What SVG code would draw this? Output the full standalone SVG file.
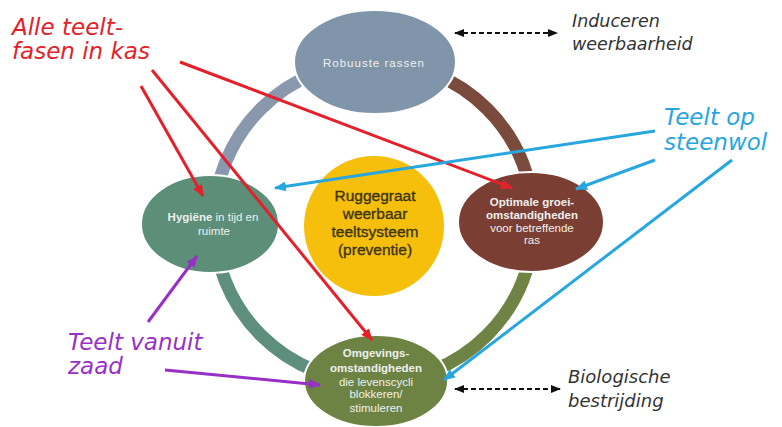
<svg xmlns="http://www.w3.org/2000/svg" width="782" height="427" viewBox="0 0 782 427">
<style>
.ring{fill:none;stroke-width:13}
.node{stroke:#ffffff;stroke-width:2}
.nt{font-family:"Liberation Sans",Arial,sans-serif;font-size:11.5px;fill:#eef0ee;text-anchor:middle}
.b{font-weight:bold}
.ct{font-family:"Liberation Sans",Arial,sans-serif;font-size:15.5px;fill:#3d3510;stroke:#3d3510;stroke-width:0.35;text-anchor:middle}
.ann{font-family:"DejaVu Sans",Verdana,sans-serif;font-style:italic}
.red{stroke:#e4202a;stroke-width:3;fill:none;marker-end:url(#mr)}
.blue{stroke:#27a6df;stroke-width:3;fill:none;marker-end:url(#mb)}
.purple{stroke:#982fc6;stroke-width:3;fill:none;marker-end:url(#mp)}
.dash{stroke:#111;stroke-width:2;stroke-dasharray:5 3;fill:none;marker-start:url(#mk);marker-end:url(#mk)}
</style>
<defs>
<marker id="mr" viewBox="0 0 12 10" refX="11" refY="5" markerWidth="12" markerHeight="10" markerUnits="userSpaceOnUse" orient="auto"><path d="M0,0 L12,5 L0,10 z" fill="#e4202a"/></marker>
<marker id="mb" viewBox="0 0 12 10" refX="11" refY="5" markerWidth="12" markerHeight="10" markerUnits="userSpaceOnUse" orient="auto"><path d="M0,0 L12,5 L0,10 z" fill="#27a6df"/></marker>
<marker id="mp" viewBox="0 0 12 10" refX="11" refY="5" markerWidth="12" markerHeight="10" markerUnits="userSpaceOnUse" orient="auto"><path d="M0,0 L12,5 L0,10 z" fill="#982fc6"/></marker>
<marker id="mk" viewBox="0 0 10 8" refX="9" refY="4" markerWidth="10" markerHeight="8" markerUnits="userSpaceOnUse" orient="auto-start-reverse"><path d="M0,0 L10,4 L0,8 z" fill="#111"/></marker>
</defs>
<rect width="782" height="427" fill="#ffffff"/>

<g id="ring">
<path class="ring" stroke="#8a98ae" d="M214 222 A160 160 0 0 1 374 62"/>
<path class="ring" stroke="#7a4a3c" d="M374 62 A160 160 0 0 1 534 222"/>
<path class="ring" stroke="#6f8444" d="M534 222 A160 160 0 0 1 374 382"/>
<path class="ring" stroke="#5e8f7d" d="M374 382 A160 160 0 0 1 214 222"/>
</g>

<g id="node-robuust">
<ellipse class="node" cx="375" cy="62" rx="81" ry="52" fill="#8094aa"/>
<text class="nt" x="374" y="67" letter-spacing="1">Robuuste  rassen</text>
</g>

<g id="node-hygiene">
<ellipse class="node" cx="210" cy="224" rx="69" ry="49" fill="#5c8e78"/>
<text class="nt" x="213" y="221"><tspan class="b">Hygiëne</tspan> in tijd en</text>
<text class="nt" x="214" y="235">ruimte</text>
</g>

<g id="node-optimaal">
<ellipse class="node" cx="531" cy="222" rx="73" ry="50" fill="#7b3e33"/>
<text class="nt b" x="532" y="206">Optimale groei-</text>
<text class="nt b" x="532" y="219">omstandigheden</text>
<text class="nt" x="532" y="232">voor  betreffende</text>
<text class="nt" x="532" y="244">ras</text>
</g>

<g id="node-omgeving">
<ellipse class="node" cx="376" cy="381" rx="72" ry="46" fill="#6d8344"/>
<text class="nt b" x="376" y="357">Omgevings-</text>
<text class="nt b" x="376" y="372">omstandigheden</text>
<text class="nt" x="376" y="386">die levenscycli</text>
<text class="nt" x="376" y="398">blokkeren/</text>
<text class="nt" x="376" y="412">stimuleren</text>
</g>

<g id="node-center">
<circle cx="374" cy="226" r="70" fill="#f5bf0c"/>
<text class="ct" x="375" y="201">Ruggegraat</text>
<text class="ct" x="375" y="219">weerbaar</text>
<text class="ct" x="375" y="237">teeltsysteem</text>
<text class="ct" x="375" y="255">(preventie)</text>
</g>

<g id="label-alle">
<text class="ann" font-size="23" fill="#e4202a" x="12" y="35">Alle teelt-</text>
<text class="ann" font-size="23" fill="#e4202a" x="12" y="59">fasen in kas</text>
</g>
<g id="label-induceren">
<text class="ann" font-size="17.5" fill="#333" x="572" y="27">Induceren</text>
<text class="ann" font-size="17.5" fill="#333" x="572" y="50">weerbaarheid</text>
</g>
<g id="label-steenwol">
<text class="ann" font-size="23" fill="#27a6df" x="664" y="125">Teelt op</text>
<text class="ann" font-size="23" fill="#27a6df" x="664" y="150">steenwol</text>
</g>
<g id="label-zaad">
<text class="ann" font-size="23" fill="#982fc6" x="68" y="350">Teelt vanuit</text>
<text class="ann" font-size="23" fill="#982fc6" x="68" y="374">zaad</text>
</g>
<g id="label-bio">
<text class="ann" font-size="18" fill="#333" x="568" y="383">Biologische</text>
<text class="ann" font-size="18" fill="#333" x="568" y="407">bestrijding</text>
</g>

<g id="connectors">
<line class="dash" x1="455" y1="33" x2="557" y2="33"/>
<line class="dash" x1="455" y1="389" x2="560" y2="389"/>
<line class="red" x1="180" y1="62" x2="512" y2="188"/>
<line class="red" x1="141" y1="86" x2="203" y2="196"/>
<line class="red" x1="152" y1="70" x2="372" y2="340"/>
<line class="blue" x1="655" y1="131" x2="275" y2="188"/>
<line class="blue" x1="655" y1="160" x2="576" y2="189"/>
<line class="blue" x1="732" y1="160" x2="444" y2="380"/>
<line class="purple" x1="148" y1="322" x2="197" y2="256"/>
<line class="purple" x1="165" y1="370" x2="320" y2="385"/>
</g>
</svg>
